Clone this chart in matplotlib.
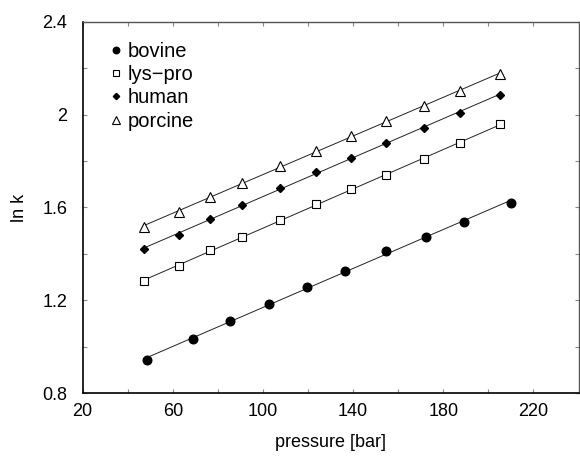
import numpy as np
import matplotlib
matplotlib.use("Agg")
import matplotlib.pyplot as plt
from matplotlib.lines import Line2D

plt.rcParams['font.family'] = ['Liberation Sans', 'DejaVu Sans']

# pressure [bar] and ln k for each variant
bovine_p = [48.5, 68.8, 85.5, 102.5, 119.6, 136.3, 154.5, 172.3, 189.2, 210.0]
bovine_k = [0.943, 1.034, 1.110, 1.183, 1.256, 1.326, 1.414, 1.471, 1.538, 1.621]

other_p = [47.4, 62.6, 76.5, 90.5, 107.7, 123.5, 139.2, 154.5, 171.5, 187.4, 205.2]
lyspro_k = [1.282, 1.348, 1.415, 1.474, 1.547, 1.614, 1.679, 1.742, 1.809, 1.877, 1.958]
human_k = [1.421, 1.483, 1.551, 1.610, 1.683, 1.751, 1.815, 1.880, 1.944, 2.009, 2.086]
porcine_k = [1.515, 1.582, 1.646, 1.706, 1.779, 1.845, 1.908, 1.971, 2.036, 2.103, 2.176]

names = ["bovine", "lys\u2212pro", "human", "porcine"]

fig = plt.figure(figsize=(5.8, 4.61), dpi=100)
ax = fig.add_axes([0.1425, 0.1475, 0.855, 0.805])

series = [
    (bovine_p, bovine_k, dict(marker='o', ms=6.2, mfc='black', mec='black')),
    (other_p, lyspro_k, dict(marker='s', ms=5.6, mfc='white', mec='black', mew=0.8)),
    (other_p, human_k, dict(marker='D', ms=4.3, mfc='black', mec='black')),
    (other_p, porcine_k, dict(marker='^', ms=7, mfc='white', mec='black', mew=0.8)),
]

handles = []
for (p, k, style), name in zip(series, names):
    p = np.array(p)
    k = np.array(k)
    # straight line fit through the points
    slope, icpt = np.polyfit(p, k, 1)
    xs = np.array([p.min(), p.max()])
    ax.plot(xs, slope * xs + icpt, color='#222222', lw=0.7, zorder=2)
    ax.plot(p, k, ls='none', zorder=3, **style)
    small = dict(style)
    small['ms'] = style['ms'] * 0.75
    handles.append(Line2D([], [], ls='none', **small))

ax.legend(handles, names, loc='upper left', bbox_to_anchor=(0.026, 0.985),
          frameon=False, fontsize=14.5, handlelength=0.6, handletextpad=0.3,
          labelspacing=0.22, borderaxespad=0.3)

ax.set_xlim(20, 240)
ax.set_ylim(0.8, 2.4)
ax.set_xticks(np.arange(20, 241, 20))
ax.set_xticklabels([str(v) if (v - 20) % 40 == 0 and v < 240 else '' for v in range(20, 241, 20)])
ax.set_yticks(np.arange(0.8, 2.41, 0.2))
ax.set_yticklabels(['0.8', '', '1.2', '', '1.6', '', '2', '', '2.4'])
ax.tick_params(direction='in', length=3, width=0.8, color='#888888',
               top=True, right=True, labelsize=13)
ax.tick_params(axis='x', pad=7)
ax.tick_params(axis='y', pad=11)

for side in ['left', 'bottom']:
    ax.spines[side].set_linewidth(1.2)
for side in ['top', 'right']:
    ax.spines[side].set_linewidth(1.0)
    ax.spines[side].set_color('#555555')

ax.set_xlabel('pressure [bar]', fontsize=13, labelpad=10)
ax.set_ylabel('ln k', fontsize=13, labelpad=10)

fig.savefig('out.png', dpi=100)
